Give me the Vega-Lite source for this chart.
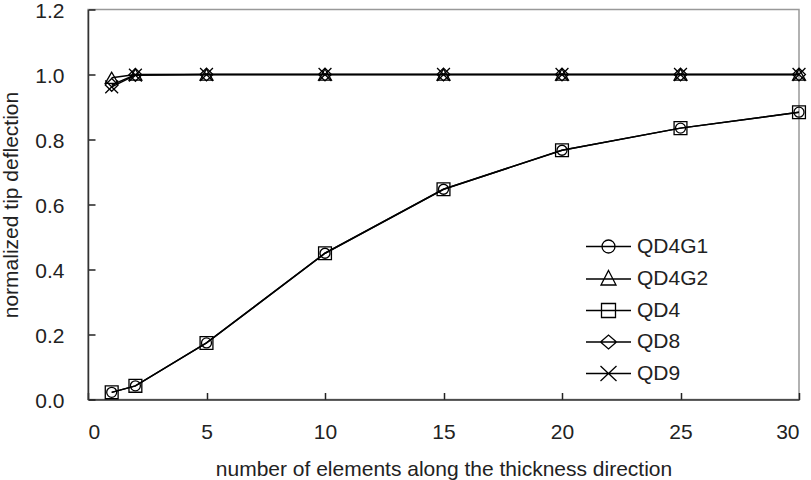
{
  "$schema": "https://vega.github.io/schema/vega-lite/v6.json",
  "width": 711,
  "height": 390,
  "autosize": "none",
  "padding": {"left": 88, "top": 9.5, "right": 12, "bottom": 80.5},
  "background": "white",
  "config": {
    "view": {"stroke": "#999", "strokeWidth": 1.5},
    "font": "Liberation Sans",
    "axis": {
      "grid": false,
      "domainColor": "#333",
      "domainWidth": 1.5,
      "tickColor": "#222",
      "tickWidth": 1.5,
      "tickSize": -7,
      "labelFont": "Liberation Sans",
      "labelFontSize": 21,
      "labelColor": "#222",
      "titleFont": "Liberation Sans",
      "titleFontSize": 21,
      "titleFontWeight": "normal",
      "titleColor": "#222"
    }
  },
  "data": {
    "values": [
      {"n": 1, "value": 0.022, "series": "QD4G1"},
      {"n": 2, "value": 0.042, "series": "QD4G1"},
      {"n": 5, "value": 0.174, "series": "QD4G1"},
      {"n": 10, "value": 0.45, "series": "QD4G1"},
      {"n": 15, "value": 0.647, "series": "QD4G1"},
      {"n": 20, "value": 0.767, "series": "QD4G1"},
      {"n": 25, "value": 0.835, "series": "QD4G1"},
      {"n": 30, "value": 0.884, "series": "QD4G1"},
      {"n": 1, "value": 0.99, "series": "QD4G2"},
      {"n": 2, "value": 1.0, "series": "QD4G2"},
      {"n": 5, "value": 1.0, "series": "QD4G2"},
      {"n": 10, "value": 1.0, "series": "QD4G2"},
      {"n": 15, "value": 1.0, "series": "QD4G2"},
      {"n": 20, "value": 1.0, "series": "QD4G2"},
      {"n": 25, "value": 1.0, "series": "QD4G2"},
      {"n": 30, "value": 1.0, "series": "QD4G2"},
      {"n": 1, "value": 0.022, "series": "QD4"},
      {"n": 2, "value": 0.042, "series": "QD4"},
      {"n": 5, "value": 0.174, "series": "QD4"},
      {"n": 10, "value": 0.45, "series": "QD4"},
      {"n": 15, "value": 0.647, "series": "QD4"},
      {"n": 20, "value": 0.767, "series": "QD4"},
      {"n": 25, "value": 0.835, "series": "QD4"},
      {"n": 30, "value": 0.884, "series": "QD4"},
      {"n": 1, "value": 0.968, "series": "QD8"},
      {"n": 2, "value": 0.999, "series": "QD8"},
      {"n": 5, "value": 1.0, "series": "QD8"},
      {"n": 10, "value": 1.0, "series": "QD8"},
      {"n": 15, "value": 1.0, "series": "QD8"},
      {"n": 20, "value": 1.0, "series": "QD8"},
      {"n": 25, "value": 1.0, "series": "QD8"},
      {"n": 30, "value": 1.0, "series": "QD8"},
      {"n": 1, "value": 0.962, "series": "QD9"},
      {"n": 2, "value": 0.998, "series": "QD9"},
      {"n": 5, "value": 1.0, "series": "QD9"},
      {"n": 10, "value": 1.0, "series": "QD9"},
      {"n": 15, "value": 1.0, "series": "QD9"},
      {"n": 20, "value": 1.0, "series": "QD9"},
      {"n": 25, "value": 1.0, "series": "QD9"},
      {"n": 30, "value": 1.0, "series": "QD9"}
    ]
  },
  "encoding": {
    "x": {
      "field": "n", "type": "quantitative",
      "scale": {"domain": [0, 30], "nice": false},
      "axis": {
        "values": [0, 5, 10, 15, 20, 25, 30],
        "labelPadding": 29,
        "title": "number of elements along the thickness direction",
        "titlePadding": 16
      }
    },
    "y": {
      "field": "value", "type": "quantitative",
      "scale": {"domain": [0, 1.2], "nice": false},
      "axis": {
        "values": [0, 0.2, 0.4, 0.6, 0.8, 1.0, 1.2],
        "format": ".1f",
        "labelPadding": 31,
        "labelOffset": 1.5,
        "title": "normalized tip deflection",
        "titlePadding": 13
      }
    }
  },
  "resolve": {"scale": {"shape": "independent"}, "legend": {"shape": "independent"}},
  "layer": [
    {
      "mark": {"type": "line", "color": "black", "strokeWidth": 1.5},
      "encoding": {"detail": {"field": "series"}}
    },
    {
      "mark": {"type": "point", "filled": false, "stroke": "black", "strokeWidth": 1.3, "opacity": 0, "size": 0},
      "encoding": {
        "shape": {
          "field": "series", "type": "nominal",
          "scale": {
            "domain": ["QD4G1", "QD4G2", "QD4", "QD8", "QD9"],
            "range": [
              "M-1,0H3.5M0.6,0A0.65,0.65 0 1,0 1.9,0A0.65,0.65 0 1,0 0.6,0",
              "M-1,0H3.5M1.25,-0.85L2.0,0.6L0.5,0.6Z",
              "M-1,0H3.5M0.55,-0.7H1.95V0.7H0.55Z",
              "M-1,0H3.5M0.45,0L1.25,-0.7L2.05,0L1.25,0.7Z",
              "M-1,0H3.5M0.45,-0.75L2.05,0.75M0.45,0.75L2.05,-0.75"
            ]
          },
          "legend": {
            "orient": "none",
            "legendX": 497,
            "legendY": 226,
            "title": null,
            "symbolSize": 400,
            "symbolOpacity": 1,
            "symbolStrokeColor": "black",
            "symbolStrokeWidth": 1.3,
            "symbolFillColor": "transparent",
            "labelFont": "Liberation Sans",
            "labelFontSize": 21,
            "labelColor": "#222",
            "labelOffset": 30,
            "rowPadding": 10.5
          }
        }
      }
    },
    {
      "transform": [{"filter": "datum.series !== 'QD4G1'"}],
      "mark": {"type": "point", "filled": false, "stroke": "black", "strokeWidth": 1.3, "opacity": 1, "size": 165},
      "encoding": {
        "shape": {
          "field": "series", "type": "nominal",
          "scale": {
            "domain": ["QD4G1", "QD4G2", "QD4", "QD8", "QD9"],
            "range": ["circle", "triangle-up", "square", "diamond", "M-1,-1L1,1M-1,1L1,-1"]
          },
          "legend": null
        }
      }
    },
    {
      "transform": [{"filter": "datum.series === 'QD4G1'"}],
      "mark": {"type": "point", "filled": false, "stroke": "black", "strokeWidth": 1.3, "opacity": 1, "size": 100, "shape": "circle"},
      "encoding": {}
    }
  ]
}
